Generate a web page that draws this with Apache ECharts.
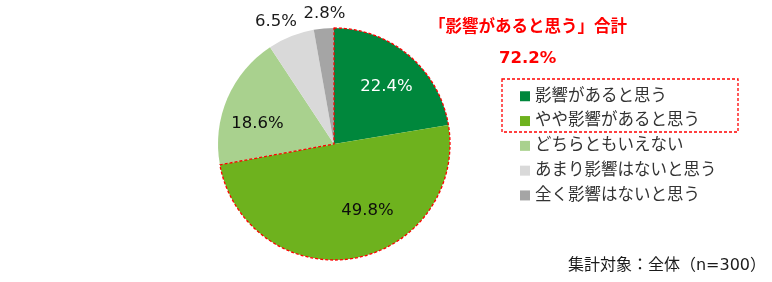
<!DOCTYPE html>
<html><head><meta charset="utf-8">
<script src="https://cdn.jsdelivr.net/npm/echarts@6/dist/echarts.min.js"></script>
<style>html,body{margin:0;padding:0;background:#fff}#c{width:772px;height:282px}</style>
</head><body><div id="c"></div>
<script>
const categories = ['影響があると思う','やや影響があると思う','どちらともいえない','あまり影響はないと思う','全く影響はないと思う'];
const values = [22.4, 49.8, 18.6, 6.5, 2.8];
const totalTitle = '「影響があると思う」合計';
const footnote = '集計対象：全体（n=300）';

// styles / layout (not data)
const colors = ['#00873C','#6EB21E','#A9D18E','#D9D9D9','#A5A5A5'];
const labelColors = ['#ffffff','#0d0d0d','#0d0d0d','#1a1a1a','#1a1a1a'];
const labelRadius = [0.645, 0.58, 0.69, 1.165, 1.13];   // fraction of pie radius
const labelOffset = [[4,0],[22,0],[-3,11],[-8,3],[2,0]];

const FONT = '"DejaVu Sans", "Noto Sans CJK JP", sans-serif';
const CJK = '"Noto Sans CJK JP", sans-serif';
const total = values.reduce((a,b)=>a+b,0);
const combined = +(values[0] + values[1]).toFixed(1);
const rest = +(total - combined).toFixed(1);
const C = [334, 144];
const R = 116;
const RMAX = 1.3;

let cum = 0;
const labelData = values.map((v,i)=>{
  const mid = cum + v/2; cum += v;
  return {
    value: [labelRadius[i], mid],
    label: {show: true, position: 'inside', offset: labelOffset[i], formatter: v.toFixed(1) + '%',
      fontFamily: FONT, fontSize: 16.5, color: labelColors[i], textBorderWidth: 0, opacity: 1}
  };
});

const chart = echarts.init(document.getElementById('c'));
chart.setOption({
  animation: false,
  textStyle: {fontFamily: FONT},
  title: [
    {text: totalTitle, left: 424, top: 12, padding: 5, textStyle:{fontFamily: CJK, fontSize:16.5, fontWeight:'bold', color:'#FF0000'}},
    {text: combined.toFixed(1) + '%', left: 494, top: 45, padding: 5, textStyle:{fontFamily: FONT, fontSize:16.5, fontWeight:'bold', color:'#FF0000'}},
    {text: footnote, right: 1, top: 253, padding: 5, textStyle:{fontFamily: FONT, fontSize:16, fontWeight:'normal', color:'#1a1a1a'}}
  ],
  polar: {center: C, radius: R * RMAX},
  angleAxis: {type: 'value', min: 0, max: total, startAngle: 90, clockwise: true, show: false},
  radiusAxis: {type: 'value', min: 0, max: RMAX, show: false},
  legend: {
    orient: 'vertical', left: 520, top: 88, padding: 0, itemWidth: 10, itemHeight: 10, itemGap: 8.3,
    icon: 'rect', selectedMode: false,
    textStyle: {fontFamily: FONT, fontSize: 16.5, color: '#333333'},
    data: categories
  },
  graphic: [{
    type: 'rect', shape: {x: 502, y: 79, width: 236, height: 53},
    style: {fill: 'none', stroke: '#FF0000', lineWidth: 1.3, lineDash: [3,2]}, z: 10
  }],
  series: [
    {
      type: 'pie', center: C, radius: R, startAngle: 90, clockwise: true,
      avoidLabelOverlap: false, label: {show: false}, labelLine: {show: false},
      itemStyle: {borderWidth: 0}, emphasis: {disabled: true},
      data: categories.map((n,i)=>({name: n, value: values[i], itemStyle: {color: colors[i]}}))
    },
    {
      type: 'pie', center: C, radius: R, startAngle: 90, clockwise: true, silent: true,
      label: {show: false}, labelLine: {show: false}, emphasis: {disabled: true}, legendHoverLink: false,
      data: [
        {name: 'combined', value: combined, itemStyle: {color: 'rgba(0,0,0,0)', borderColor: '#FF0000', borderWidth: 1.3, borderType: [3,2]}},
        {name: 'rest', value: rest, itemStyle: {color: 'rgba(0,0,0,0)', borderWidth: 0}}
      ]
    },
    {
      type: 'scatter', coordinateSystem: 'polar', symbolSize: 1, silent: true,
      itemStyle: {color: 'rgba(0,0,0,0)', opacity: 1}, z: 20,
      data: labelData
    }
  ]
});
</script></body></html>
